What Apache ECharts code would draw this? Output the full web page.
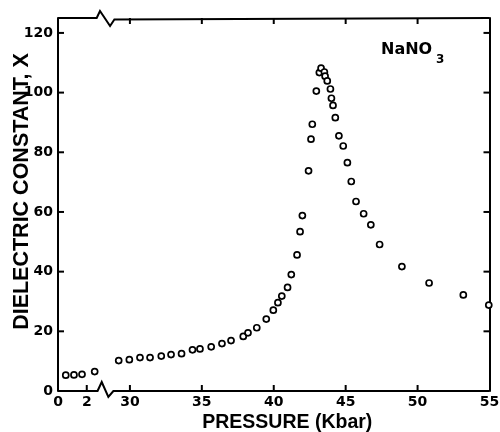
<!DOCTYPE html>
<html>
<head>
<meta charset="utf-8">
<script src="https://cdn.jsdelivr.net/npm/echarts@6/dist/echarts.min.js"></script>
<style>
  html, body { margin: 0; padding: 0; background: #fff; }
  #chart { width: 500px; height: 432px; }
</style>
</head>
<body>
<div id="chart"></div>
<script>
// Dielectric constant of NaNO3 versus pressure (Kbar)
const pressure = [
  0.54, 1.11, 1.67, 2.55,
  29.22, 29.96, 30.70, 31.40, 32.18, 32.86, 33.59, 34.35, 34.87, 35.65,
  36.40, 37.03, 37.88, 38.21, 38.82, 39.48, 39.97, 40.29, 40.56, 40.96,
  41.22, 41.62, 41.83, 41.99, 42.42, 42.59, 42.68, 42.96, 43.17, 43.29,
  43.52, 43.57, 43.72, 43.94, 44.01, 44.12, 44.28, 44.53, 44.83, 45.12,
  45.39, 45.72, 46.25, 46.75, 47.36, 48.91, 50.80, 53.18, 54.95
];
const dielectric = [
  5.3, 5.4, 5.6, 6.5,
  10.2, 10.5, 11.2, 11.2, 11.7, 12.2, 12.5, 13.8, 14.1, 14.8,
  15.9, 16.9, 18.3, 19.5, 21.2, 24.1, 27.1, 29.6, 31.8, 34.7,
  39.0, 45.6, 53.4, 58.8, 73.8, 84.4, 89.4, 100.5, 106.7, 108.2,
  106.9, 105.5, 103.9, 101.2, 98.1, 95.7, 91.6, 85.5, 82.1, 76.5,
  70.2, 63.5, 59.4, 55.7, 49.1, 41.7, 36.2, 32.2, 28.8
];

// Tick labels on the pressure axis and where tick marks sit
const pressureLabels = [0, 2, 30, 35, 40, 45, 50, 55];
const pressureTicksBottom = [2, 30, 35, 40, 45, 50];
const pressureTicksTop = [30, 35, 40, 45, 50];
const dielectricTicks = [0, 20, 40, 60, 80, 100, 120];
const dielectricTicksRight = [20, 40, 60, 80, 100, 120];

// Broken pressure axis: everything above `cut` is shifted down by `shift`
const axisBreak = { cut: 10, shift: 25 };
const toAxis = p => (p > axisBreak.cut ? p - axisBreak.shift : p);
const fromAxis = t => (t > 3.5 ? t + axisBreak.shift : t);

const X_MIN = 0, X_MAX = 30, Y_MIN = 0, Y_MAX = 125;
const TICK_LEN = 6, TICK_W = 2;

// Zigzag break marks along the bottom and top frame lines: [axis x, pixel offset]
const bottomFrame = [[X_MIN, 0], [2.75, 0], [3.04, -9], [3.50, 6], [3.85, 0], [X_MAX, 0]];
const topFrame = [[X_MIN, 0], [2.69, 0], [2.92, -7], [3.62, 8], [3.92, 1.5], [X_MAX, 0]];

const points = pressure.map((p, i) => [toAxis(p), dielectric[i]]);

const BLACK = '#000';
const tickFont = { color: BLACK, fontFamily: 'DejaVu Sans', fontWeight: 'bold', fontSize: 14 };

const chart = echarts.init(document.getElementById('chart'), null, { renderer: 'canvas' });

// Top and bottom frame lines with their break marks
function renderFrame(params, api) {
  const frame = (pattern, yVal) => ({
    type: 'polyline',
    shape: {
      points: pattern.map(([t, dy]) => {
        const c = api.coord([t, yVal]);
        return [c[0], c[1] + dy];
      })
    },
    style: { stroke: BLACK, lineWidth: 2, fill: 'none' }
  });
  return { type: 'group', children: [frame(bottomFrame, Y_MIN), frame(topFrame, Y_MAX)] };
}

// Inward tick marks drawn as thin bars anchored on the frame
function tickSeries(data, size, offset) {
  return {
    type: 'scatter',
    xAxisIndex: 0, yAxisIndex: 0,
    data,
    symbol: 'rect',
    symbolSize: size,
    symbolOffset: offset,
    clip: false,
    silent: true,
    itemStyle: { color: BLACK, borderWidth: 0, opacity: 1 },
    z: 4
  };
}

chart.setOption({
  animation: false,
  backgroundColor: '#fff',
  grid: { left: 58, right: 10.5, top: 18, bottom: 41, containLabel: false, outerBoundsMode: 'none' },
  xAxis: {
    type: 'value', position: 'bottom', min: X_MIN, max: X_MAX,
    splitLine: { show: false },
    axisLine: { show: false, onZero: false },
    axisTick: { show: false },
    axisLabel: {
      show: true, margin: 4,
      customValues: pressureLabels.map(toAxis),
      formatter: v => String(Math.round(fromAxis(v))),
      ...tickFont
    },
    name: 'PRESSURE (Kbar)',
    nameLocation: 'middle',
    nameGap: 22,
    nameMoveOverlap: false,
    nameTextStyle: {
      color: BLACK, fontFamily: 'Liberation Sans', fontWeight: 'bold', fontSize: 19.5,
      padding: [0, 0, 0, 27], verticalAlign: 'top'
    }
  },
  yAxis: [
    {
      type: 'value', position: 'left', min: Y_MIN, max: Y_MAX,
      splitLine: { show: false },
      axisLine: { show: true, onZero: false, lineStyle: { color: BLACK, width: 2 } },
      axisTick: { show: false },
      axisLabel: { show: true, margin: 5, customValues: dielectricTicks, ...tickFont },
      name: 'DIELECTRIC CONSTANT, X',
      nameLocation: 'middle',
      nameRotate: 90,
      nameGap: 25,
      nameMoveOverlap: false,
      nameTextStyle: {
        color: BLACK, fontFamily: 'Liberation Sans', fontWeight: 'bold', fontSize: 21.5,
        padding: [0, 0, 0, 26]
      }
    },
    {
      type: 'value', position: 'right', min: Y_MIN, max: Y_MAX,
      splitLine: { show: false },
      axisLine: { show: true, onZero: false, lineStyle: { color: BLACK, width: 2 } },
      axisTick: { show: false },
      axisLabel: { show: false }
    }
  ],
  graphic: [
    {
      type: 'text', left: 381, top: 42, silent: true,
      style: { text: 'NaNO', font: 'bold 16px "DejaVu Sans"', fill: BLACK }
    },
    {
      type: 'text', left: 436, top: 53.5, silent: true,
      style: { text: '3', font: 'bold 12px "DejaVu Sans"', fill: BLACK }
    }
  ],
  series: [
    {
      type: 'custom',
      xAxisIndex: 0, yAxisIndex: 0,
      clip: false,
      silent: true,
      data: [[X_MIN, Y_MIN]],
      renderItem: renderFrame,
      z: 5
    },
    tickSeries(pressureTicksBottom.map(p => [toAxis(p), Y_MIN]), [TICK_W, TICK_LEN], [0, -TICK_LEN / 2]),
    tickSeries(pressureTicksTop.map(p => [toAxis(p), Y_MAX]), [TICK_W, TICK_LEN], [0, TICK_LEN / 2]),
    tickSeries(dielectricTicks.map(v => [X_MIN, v]), [TICK_LEN, TICK_W], [TICK_LEN / 2, 0]),
    tickSeries(dielectricTicksRight.map(v => [X_MAX, v]), [TICK_LEN, TICK_W], [-TICK_LEN / 2, 0]),
    {
      type: 'scatter',
      xAxisIndex: 0, yAxisIndex: 0,
      data: points,
      symbol: 'circle',
      symbolSize: 6,
      clip: false,
      itemStyle: { color: '#fff', borderColor: BLACK, borderWidth: 1.7, opacity: 1 },
      z: 3
    }
  ]
});
</script>
</body>
</html>
